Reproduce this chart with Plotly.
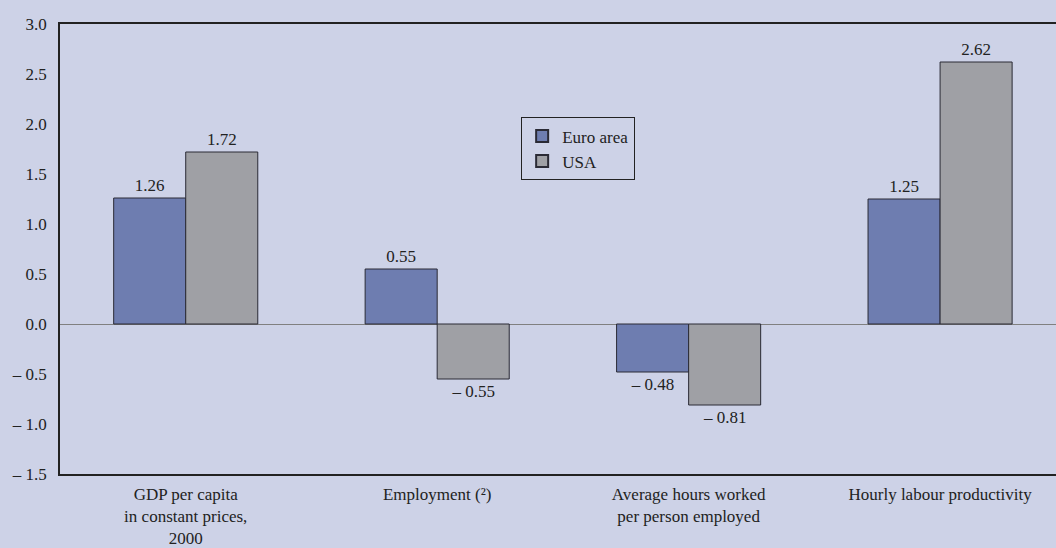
import plotly.graph_objects as go

categories = ["GDP per capita<br>in constant prices,<br>2000", "Employment (²)",
              "Average hours worked<br>per person employed", "Hourly labour productivity"]
euro = [1.26, 0.55, -0.48, 1.25]
usa = [1.72, -0.55, -0.81, 2.62]
ytick_vals = [-1.5, -1.0, -0.5, 0.0, 0.5, 1.0, 1.5, 2.0, 2.5, 3.0]
ytick_text = ["– 1.5", "– 1.0", "– 0.5", "0.0", "0.5", "1.0", "1.5", "2.0", "2.5", "3.0"]

def fmt(v):
    return ("– %.2f" % abs(v)) if v < 0 else "%.2f" % v

bg = "#CDD2E7"
font = dict(family="Liberation Serif", size=17, color="#222222")
xs = list(range(len(categories)))

fig = go.Figure()
fig.add_trace(go.Bar(x=xs, y=euro, name="Euro area", marker=dict(color="#6E7DB0", line=dict(color="#2a2a35", width=1)),
                     text=[fmt(v) for v in euro], textposition="outside", cliponaxis=False,
                     textfont=font))
fig.add_trace(go.Bar(x=xs, y=usa, name="USA", marker=dict(color="#9FA0A5", line=dict(color="#2a2a35", width=1)),
                     text=[fmt(v) for v in usa], textposition="outside", cliponaxis=False,
                     textfont=font))

fig.update_layout(
    width=1056, height=548,
    margin=dict(l=60, r=0, t=24, b=71),
    paper_bgcolor=bg, plot_bgcolor=bg,
    font=font,
    barmode="group", bargap=0.427, bargroupgap=0,
    showlegend=True,
    legend=dict(x=0.463, y=0.7925, xanchor="left", yanchor="top",
                bgcolor=bg, bordercolor="#222222", borderwidth=1,
                font=font, tracegroupgap=4, itemsizing="constant", entrywidth=100),
    uniformtext=dict(minsize=17, mode="show"),
)
fig.update_xaxes(range=[-0.5, 3.461], tickvals=xs, ticktext=categories,
                 showline=True, linecolor="#222222", linewidth=1.5, mirror=True,
                 showgrid=False, ticks="", zeroline=False, ticklabelstandoff=4)
fig.update_yaxes(range=[-1.5, 3.0], tickvals=ytick_vals, ticktext=ytick_text,
                 showline=True, linecolor="#222222", linewidth=1.5, mirror=False,
                 showgrid=False, ticks="", zeroline=True, zerolinecolor="#808080", zerolinewidth=1,
                 ticklabelstandoff=8)

fig.write_html("out.html", config={"displayModeBar": False},
               post_script="document.body.style.margin='0';document.body.style.background='%s';" % bg)
